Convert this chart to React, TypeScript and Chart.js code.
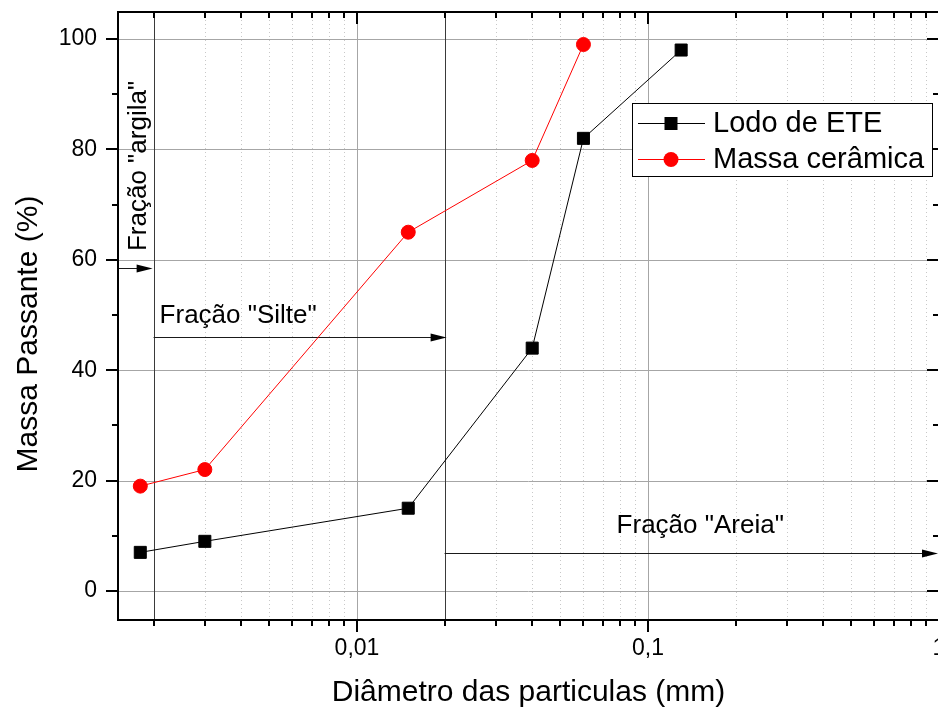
import React, { useEffect, useRef } from 'react';
import { Chart, registerables } from 'chart.js';

Chart.register(...registerables);

// ---- data ----
const lodoDiameters = [0.0018, 0.003, 0.015, 0.04, 0.06, 0.13];
const lodoValues = [7, 9, 15, 44, 82, 98];
const massaDiameters = [0.0018, 0.003, 0.015, 0.04, 0.06];
const massaValues = [19, 22, 65, 78, 99];
const seriesLabels = ['Lodo de ETE', 'Massa cerâmica'];

const xTickValues = [0.01, 0.1, 1];
const xTickLabels = ['0,01', '0,1', '1'];
const yTickValues = [0, 20, 40, 60, 80, 100];
const yMinorValues = [10, 30, 50, 70, 90];

const fractionBounds = [0.002, 0.02];
const fractionLabels = ['Fração "argila"', 'Fração "Silte"', 'Fração "Areia"'];

const xTitle = 'Diâmetro das particulas (mm)';
const yTitle = 'Massa Passante (%)';

// ---- axis range ----
const X_MIN = 0.001509;
const X_MAX = 1;
const Y_MIN = -5.25;
const Y_MAX = 104.89;

const FONT = '"Liberation Sans", Arial, Helvetica, sans-serif';
Chart.defaults.font.family = FONT;
Chart.defaults.color = '#000';

function minorXValues(): number[] {
  const out: number[] = [];
  for (let e = -3; e <= 0; e++) {
    for (let m = 2; m <= 9; m++) {
      const v = m * Math.pow(10, e);
      if (v > X_MIN && v < X_MAX) out.push(v);
    }
  }
  return out;
}

function hLine(ctx: CanvasRenderingContext2D, x1: number, x2: number, y: number) {
  ctx.beginPath();
  ctx.moveTo(x1, y);
  ctx.lineTo(x2, y);
  ctx.stroke();
}
function vLine(ctx: CanvasRenderingContext2D, x: number, y1: number, y2: number) {
  ctx.beginPath();
  ctx.moveTo(x, y1);
  ctx.lineTo(x, y2);
  ctx.stroke();
}
function arrow(ctx: CanvasRenderingContext2D, x1: number, x2: number, y: number) {
  ctx.beginPath();
  ctx.moveTo(x1, y);
  ctx.lineTo(x2 - 10, y);
  ctx.stroke();
  ctx.beginPath();
  ctx.moveTo(x2, y);
  ctx.lineTo(x2 - 16, y - 4);
  ctx.lineTo(x2 - 16, y + 4);
  ctx.closePath();
  ctx.fill();
}

const decorPlugin = {
  id: 'decor',
  beforeDatasetsDraw(chart: any) {
    const { ctx, chartArea: a, scales } = chart;
    const x = scales.x;
    const y = scales.y;
    ctx.save();
    // minor dotted vertical grid
    ctx.lineWidth = 1;
    ctx.strokeStyle = '#c8c8c8';
    ctx.setLineDash([1, 3]);
    for (const v of minorXValues()) {
      const px = Math.round(x.getPixelForValue(v)) + 0.5;
      vLine(ctx, px, a.top, a.bottom);
    }
    ctx.setLineDash([]);
    // major grid
    ctx.strokeStyle = '#a6a6a6';
    for (const v of xTickValues) {
      const px = Math.round(x.getPixelForValue(v)) + 0.5;
      vLine(ctx, px, a.top, a.bottom);
    }
    for (const v of yTickValues) {
      const py = Math.round(y.getPixelForValue(v)) + 0.5;
      hLine(ctx, a.left, a.right, py);
    }
    // fraction boundaries
    ctx.strokeStyle = '#3a3a3a';
    for (const v of fractionBounds) {
      const px = Math.round(x.getPixelForValue(v)) + 0.5;
      vLine(ctx, px, a.top, a.bottom);
    }
    // arrows
    const b0 = x.getPixelForValue(fractionBounds[0]);
    const b1 = x.getPixelForValue(fractionBounds[1]);
    ctx.strokeStyle = '#1a1a1a';
    ctx.fillStyle = '#000';
    arrow(ctx, a.left, b0 - 1, Math.round(y.getPixelForValue(58.5)) + 0.5);
    arrow(ctx, b0, b1 + 2, Math.round(y.getPixelForValue(46)) + 0.5);
    arrow(ctx, b1, a.right - 1, Math.round(y.getPixelForValue(6.9)) + 0.5);
    // labels
    ctx.font = `26px ${FONT}`;
    ctx.fillStyle = '#000';
    ctx.textBaseline = 'alphabetic';
    ctx.save();
    ctx.translate(b0 - 8, y.getPixelForValue(77));
    ctx.rotate(-Math.PI / 2);
    ctx.textAlign = 'center';
    ctx.fillText(fractionLabels[0], 0, 0);
    ctx.restore();
    ctx.textAlign = 'left';
    ctx.fillText(fractionLabels[1], b0 + 6, y.getPixelForValue(48.6));
    ctx.fillText(fractionLabels[2], x.getPixelForValue(0.078), y.getPixelForValue(10.5));
    ctx.restore();
  },
  afterDatasetsDraw(chart: any) {
    const { ctx, chartArea: a, scales } = chart;
    const x = scales.x;
    const y = scales.y;
    ctx.save();
    ctx.strokeStyle = '#000';
    ctx.lineWidth = 2;
    ctx.strokeRect(a.left, a.top, a.right - a.left, a.bottom - a.top);
    // x ticks (bottom outward, top inward)
    for (const v of minorXValues()) {
      const px = Math.round(x.getPixelForValue(v));
      vLine(ctx, px, a.bottom, a.bottom + 6);
      vLine(ctx, px, a.top, a.top + 6);
    }
    for (const v of xTickValues) {
      const px = Math.round(x.getPixelForValue(v));
      vLine(ctx, px, a.bottom, a.bottom + 12);
      vLine(ctx, px, a.top, a.top + 12);
    }
    // y ticks (left outward, right inward)
    for (const v of yTickValues) {
      const py = Math.round(y.getPixelForValue(v));
      hLine(ctx, a.left - 12, a.left, py);
      hLine(ctx, a.right - 12, a.right, py);
    }
    for (const v of yMinorValues) {
      const py = Math.round(y.getPixelForValue(v));
      hLine(ctx, a.left - 6, a.left, py);
      hLine(ctx, a.right - 6, a.right, py);
    }
    // y title
    ctx.fillStyle = '#000';
    ctx.font = `30px ${FONT}`;
    ctx.save();
    ctx.translate(37, 334);
    ctx.rotate(-Math.PI / 2);
    ctx.textAlign = 'center';
    ctx.textBaseline = 'alphabetic';
    ctx.fillText(yTitle, 0, 0);
    ctx.restore();

    // legend
    const lx = 632.5, ly = 103.5, lw = 300, lh = 73;
    ctx.fillStyle = '#fff';
    ctx.fillRect(lx, ly, lw, lh);
    ctx.lineWidth = 1;
    ctx.strokeStyle = '#000';
    ctx.strokeRect(lx, ly, lw, lh);
    const rows = [123, 159];
    chart.data.datasets.forEach((ds: any, i: number) => {
      const ry = rows[i] + 0.5;
      ctx.strokeStyle = ds.borderColor;
      ctx.lineWidth = 1;
      hLine(ctx, 638, 705, ry);
      ctx.fillStyle = ds.pointBackgroundColor;
      if (ds.pointStyle === 'rect') {
        ctx.fillRect(671 - 6.5, ry - 6.5, 13, 13);
      } else {
        ctx.beginPath();
        ctx.arc(671, ry, 7.5, 0, Math.PI * 2);
        ctx.fill();
      }
      ctx.fillStyle = '#000';
      ctx.font = `29px ${FONT}`;
      ctx.textAlign = 'left';
      ctx.textBaseline = 'middle';
      ctx.fillText(ds.label, 713, rows[i] + 1);
    });
    ctx.restore();
  },
};

export default function App() {
  const ref = useRef<HTMLCanvasElement>(null);
  useEffect(() => {
    const canvas = ref.current;
    if (!canvas) return;
    const chart = new Chart(canvas, {
      type: 'scatter',
      data: {
        datasets: [
          {
            label: seriesLabels[0],
            data: lodoDiameters.map((d, i) => ({ x: d, y: lodoValues[i] })),
            showLine: true,
            borderColor: '#000000',
            borderWidth: 1,
            pointStyle: 'rect',
            pointRadius: 8.5,
            pointBorderWidth: 1,
            pointBackgroundColor: '#000000',
            pointBorderColor: '#000000',
          },
          {
            label: seriesLabels[1],
            data: massaDiameters.map((d, i) => ({ x: d, y: massaValues[i] })),
            showLine: true,
            borderColor: '#ff0000',
            borderWidth: 1,
            pointStyle: 'circle',
            pointRadius: 7,
            pointBorderWidth: 1,
            pointBackgroundColor: '#ff0000',
            pointBorderColor: '#ff0000',
          },
        ],
      } as any,
      options: {
        animation: false,
        responsive: false,
        events: [],
        layout: { padding: { left: 0, top: 12, right: 21, bottom: 0 } },
        plugins: { legend: { display: false }, tooltip: { enabled: false } },
        scales: {
          x: {
            type: 'logarithmic',
            min: X_MIN,
            max: X_MAX,
            grid: { display: false, drawTicks: false },
            border: { display: false },
            afterBuildTicks: (s: any) => {
              s.ticks = xTickValues.map((v) => ({ value: v }));
            },
            afterFit: (s: any) => {
              s.height = 91;
              s.paddingLeft = 0;
              s.paddingRight = 0;
              s.paddingTop = 0;
              s.paddingBottom = 0;
            },
            ticks: {
              autoSkip: false,
              maxRotation: 0,
              padding: 15,
              color: '#000',
              font: { size: 23 },
              callback: (_v: any, i: number) => xTickLabels[i],
            },
            title: {
              display: true,
              text: xTitle,
              color: '#000',
              font: { size: 30 },
              padding: { top: 0, bottom: 0 },
            },
          },
          y: {
            type: 'linear',
            min: Y_MIN,
            max: Y_MAX,
            grid: { display: false, drawTicks: false },
            border: { display: false },
            afterBuildTicks: (s: any) => {
              s.ticks = yTickValues.map((v) => ({ value: v }));
            },
            afterFit: (s: any) => {
              s.width = 118;
              s.paddingLeft = 0;
              s.paddingRight = 0;
              s.paddingTop = 0;
              s.paddingBottom = 0;
            },
            ticks: {
              padding: 21,
              color: '#000',
              font: { size: 23 },
              callback: (v: any) => String(v),
            },
          },
        },
      } as any,
      plugins: [decorPlugin],
    });
    return () => chart.destroy();
  }, []);
  return (
    <div
      style={{
        position: 'fixed',
        left: 0,
        top: 0,
        width: 938,
        height: 711,
        overflow: 'hidden',
        background: '#fff',
      }}
    >
      <canvas ref={ref} width={960} height={711} style={{ display: 'block', width: 960, height: 711 }} />
    </div>
  );
}
